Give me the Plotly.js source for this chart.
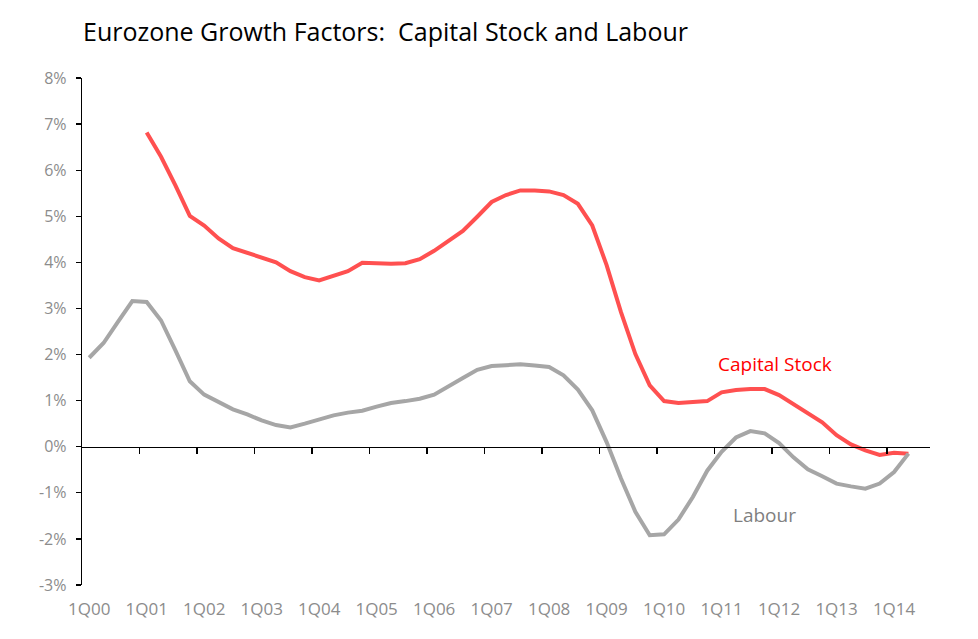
<!DOCTYPE html>
<html>
<head>
<meta charset="utf-8">
<script src="https://cdn.plot.ly/plotly-3.0.1.min.js"></script>
<style>html,body{margin:0;padding:0;background:#fff}#chart{width:978px;height:639px}</style>
</head>
<body>
<div id="chart"></div>
<script>
// Quarterly periods 1Q00 .. 3Q14
const quarters = [];
for (let y = 0; y <= 14; y++) {
  for (let q = 1; q <= 4; q++) {
    const lbl = q + 'Q' + String(y).padStart(2, '0');
    if (quarters.length < 59) quarters.push(lbl);
  }
}
const tickLabels = ['1Q00','1Q01','1Q02','1Q03','1Q04','1Q05','1Q06','1Q07','1Q08','1Q09','1Q10','1Q11','1Q12','1Q13','1Q14'];
const yTickVals = [-3,-2,-1,0,1,2,3,4,5,6,7,8];
const yTickText = ['-3%','-2%','-1%','0%','1%','2%','3%','4%','5%','6%','7%','8%'];

// Labour growth (%), from 1Q00
const labour = [1.93,2.25,2.71,3.16,3.14,2.74,2.09,1.42,1.13,0.96,0.81,0.70,0.57,0.47,0.42,0.50,
  0.59,0.68,0.74,0.78,0.87,0.95,0.99,1.04,1.13,1.30,1.49,1.67,1.75,1.77,1.79,1.76,
  1.73,1.55,1.24,0.79,0.10,-0.69,-1.41,-1.92,-1.90,-1.58,-1.09,-0.52,-0.11,0.20,0.34,0.29,
  0.08,-0.23,-0.49,-0.64,-0.80,-0.86,-0.91,-0.80,-0.55,-0.15];

// Capital stock growth (%), from 1Q01
const capital = [null,null,null,null,6.82,6.29,5.67,5.01,4.80,4.52,4.31,4.21,4.12,4.00,3.81,3.68,
  3.61,3.70,3.81,3.99,3.97,3.97,3.98,4.07,4.25,4.46,4.68,4.99,5.31,5.46,5.56,5.56,
  5.54,5.46,5.27,4.80,3.94,2.92,2.01,1.33,0.99,0.95,0.97,0.99,1.18,1.23,1.25,1.25,
  1.12,0.92,0.72,0.53,0.25,0.05,-0.08,-0.18,-0.13,-0.15];

const idx = quarters.map((_, i) => i);
const labelPos = tickLabels.map(l => quarters.indexOf(l));
const boundaryPos = labelPos.slice(1).map(p => p - 0.5);

const font = '"Open Sans", "Noto Sans", sans-serif';
const gray = '#8c8c8c';

const traces = [
  {x: idx.slice(0, labour.length), y: labour, xaxis: 'x2', yaxis: 'y', mode: 'lines', name: 'Labour',
   line: {color: '#a6a6a6', width: 4}, hoverinfo: 'skip'},
  {x: idx.slice(0, capital.length), y: capital, xaxis: 'x', yaxis: 'y', mode: 'lines', name: 'Capital Stock',
   line: {color: '#ff5050', width: 4}, connectgaps: false, hoverinfo: 'skip'}
];

const xr = [-0.5, quarters.length - 0.5];
const yr = [-3, 8];

const layout = {
  width: 978, height: 639,
  margin: {l: 82, r: 48, t: 78, b: 54},
  paper_bgcolor: '#fff', plot_bgcolor: '#fff',
  showlegend: false,
  font: {family: font, color: gray, size: 16},
  title: {text: 'Eurozone Growth Factors:  Capital Stock and Labour', x: 83/978, xanchor: 'left',
          xref: 'container', y: 1 - 32/639, yanchor: 'middle', yref: 'container',
          font: {family: font, size: 25, color: '#000'}},
  xaxis: {range: xr, anchor: 'free', position: (0 - yr[0]) / (yr[1] - yr[0]),
          showline: true, linecolor: '#000', linewidth: 1.3,
          tickmode: 'array', tickvals: boundaryPos, ticks: 'outside', ticklen: 6, tickcolor: '#000', tickwidth: 1.3,
          showticklabels: false, showgrid: false, zeroline: false},
  xaxis2: {range: xr, overlaying: 'x', anchor: 'y', side: 'bottom',
           tickmode: 'array', tickvals: labelPos, ticktext: tickLabels, ticks: '',
           ticklabelstandoff: 12,
           showline: false, showgrid: false, zeroline: false,
           tickfont: {family: font, size: 17, color: gray}},
  yaxis: {range: yr, tickmode: 'array', tickvals: yTickVals, ticktext: yTickText,
          showline: true, linecolor: '#000', linewidth: 1.3, ticks: 'outside', ticklen: 5, tickcolor: '#000', tickwidth: 1.3,
          ticklabelstandoff: 6,
          showgrid: false, zeroline: false, tickfont: {family: font, size: 16, color: gray}},
  annotations: [
    {x: 47.7, y: 1.80, xref: 'x', yref: 'y', text: 'Capital Stock', showarrow: false,
     font: {family: font, size: 19, color: '#ff0000'}},
    {x: 47.0, y: -1.49, xref: 'x', yref: 'y', text: 'Labour', showarrow: false,
     font: {family: font, size: 19, color: '#7f7f7f'}}
  ]
};

Plotly.newPlot('chart', traces, layout, {staticPlot: true, displayModeBar: false});
</script>
</body>
</html>
